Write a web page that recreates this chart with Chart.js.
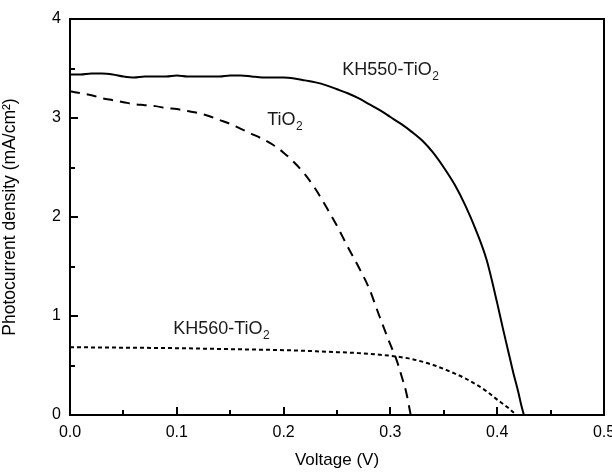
<!DOCTYPE html>
<html><head><meta charset="utf-8">
<script src="https://cdn.jsdelivr.net/npm/chart.js@4.4.0/dist/chart.umd.min.js"></script>
<style>html,body{margin:0;padding:0;background:#fff}</style>
</head><body>
<canvas id="c" width="612" height="472"></canvas>
<script>
// ---- data ----
const voltageKH550 = [0,0.01,0.02,0.03,0.04,0.05,0.06,0.07,0.08,0.09,0.10,0.11,0.12,0.13,0.14,0.15,0.16,0.17,0.18,0.19,0.20,0.21,0.22,0.23,0.24,0.25,0.26,0.27,0.28,0.29,0.30,0.31,0.32,0.33,0.34,0.35,0.36,0.37,0.38,0.39,0.40,0.405,0.41,0.415,0.42,0.4225,0.425];
const currentKH550 = [3.44,3.44,3.45,3.45,3.44,3.42,3.41,3.42,3.42,3.42,3.43,3.42,3.42,3.42,3.42,3.43,3.43,3.42,3.41,3.41,3.41,3.40,3.38,3.36,3.33,3.29,3.25,3.20,3.14,3.08,3.01,2.94,2.86,2.77,2.65,2.50,2.33,2.12,1.87,1.57,1.13,0.89,0.66,0.43,0.22,0.10,0.0];
const voltageTiO2 = [0,0.01,0.02,0.03,0.04,0.05,0.06,0.07,0.08,0.09,0.10,0.11,0.12,0.13,0.14,0.15,0.16,0.17,0.18,0.19,0.20,0.21,0.22,0.23,0.24,0.25,0.26,0.27,0.28,0.29,0.30,0.305,0.31,0.315,0.319];
const currentTiO2 = [3.27,3.25,3.23,3.20,3.18,3.16,3.14,3.13,3.12,3.10,3.09,3.07,3.05,3.02,2.98,2.94,2.89,2.84,2.79,2.73,2.65,2.55,2.43,2.28,2.10,1.91,1.70,1.50,1.28,0.99,0.71,0.58,0.41,0.22,0.0];
const voltageKH560 = [0,0.05,0.10,0.15,0.20,0.25,0.27,0.30,0.32,0.34,0.36,0.37,0.38,0.39,0.40,0.41,0.418];
const currentKH560 = [0.685,0.68,0.675,0.665,0.655,0.635,0.625,0.598,0.565,0.505,0.42,0.37,0.31,0.24,0.155,0.075,0.0];

const xMajorTicks = [0,0.1,0.2,0.3,0.4,0.5];
const xMinorTicks = [0.05,0.15,0.25,0.35,0.45];
const yMajorTicks = [0,1,2,3,4];
const yMinorTicks = [0.5,1.5,2.5,3.5];

const seriesLabels = [
  {name:'KH550-TiO', sub:'2', v:0.255, j:3.485},
  {name:'TiO', sub:'2', v:0.1847, j:2.98},
  {name:'KH560-TiO', sub:'2', v:0.0966, j:0.87}
];

const FONT = '"Liberation Sans", Arial, sans-serif';
const pts = (xs, ys) => xs.map((x,i)=>({x:x,y:ys[i]}));

const framePlugin = {
  id:'frame',
  afterDraw(chart){
    const {ctx, chartArea:a, scales:{x,y}} = chart;
    ctx.save();
    ctx.setLineDash([]);
    const L = Math.round(a.left), R = Math.round(a.right), T = Math.round(a.top), B = Math.round(a.bottom);
    ctx.fillStyle = '#000';
    ctx.fillRect(L - 1, T - 1, R - L + 2, 2);      // top
    ctx.fillRect(L - 1, B - 1, R - L + 2, 2);      // bottom
    ctx.fillRect(L - 1, T - 1, 2, B - T + 2);      // left
    ctx.fillRect(R - 1, T - 1, 2, B - T + 2);      // right
    xMajorTicks.forEach(v=>{const px=Math.round(x.getPixelForValue(v)); ctx.fillRect(px-1, B-8, 2, 8);});
    yMajorTicks.forEach(v=>{const py=Math.round(y.getPixelForValue(v)); ctx.fillRect(L, py-1, 8, 2);});
    xMinorTicks.forEach(v=>{const px=Math.round(x.getPixelForValue(v)); ctx.fillRect(px-1, B-5, 2, 5);});
    yMinorTicks.forEach(v=>{const py=Math.round(y.getPixelForValue(v)); ctx.fillRect(L, py-1, 5, 2);});
    // series labels
    ctx.fillStyle = '#1a1a1a';
    ctx.textBaseline = 'middle';
    ctx.textAlign = 'left';
    seriesLabels.forEach(l=>{
      const px = x.getPixelForValue(l.v), py = y.getPixelForValue(l.j);
      ctx.font = '18px ' + FONT;
      ctx.fillText(l.name, px, py);
      const w = ctx.measureText(l.name).width;
      ctx.font = '12px ' + FONT;
      ctx.fillText(l.sub, px + w + 0.5, py + 7);
    });
    ctx.restore();
  }
};

new Chart(document.getElementById('c'), {
  type:'scatter',
  data:{datasets:[
    {label:'KH550-TiO2', data:pts(voltageKH550,currentKH550), showLine:true, borderColor:'#000', borderWidth:2, pointRadius:0, cubicInterpolationMode:'monotone'},
    {label:'TiO2', data:pts(voltageTiO2,currentTiO2), showLine:true, borderColor:'#000', borderWidth:2, borderDash:[10,7], pointRadius:0, cubicInterpolationMode:'monotone'},
    {label:'KH560-TiO2', data:pts(voltageKH560,currentKH560), showLine:true, borderColor:'#000', borderWidth:2, borderDash:[4,3], pointRadius:0, cubicInterpolationMode:'monotone'}
  ]},
  options:{
    responsive:false, devicePixelRatio:1, animation:false,
    layout:{padding:{left:0, right:8, top:19, bottom:0}},
    plugins:{legend:{display:false}, tooltip:{enabled:false}},
    scales:{
      x:{type:'linear', min:0, max:0.5,
        afterBuildTicks:s=>{s.ticks = xMajorTicks.map(v=>({value:v}));},
        afterFit:s=>{s.height = 57; s.paddingLeft = 0; s.paddingRight = 0;},
        grid:{display:false, drawTicks:false},
        border:{display:false},
        ticks:{padding:8, color:'#000', font:{family:FONT, size:16}, callback:v=>Number(v).toFixed(1), maxRotation:0},
        title:{display:true, text:'Voltage (V)', color:'#000', font:{family:FONT, size:17}, padding:{top:0,bottom:1}}
      },
      y:{type:'linear', min:0, max:4,
        afterBuildTicks:s=>{s.ticks = yMajorTicks.map(v=>({value:v}));},
        afterFit:s=>{s.width = 70; s.paddingTop = 0; s.paddingBottom = 0;},
        grid:{display:false, drawTicks:false},
        border:{display:false},
        ticks:{padding:9, color:'#000', font:{family:FONT, size:16}, callback:v=>String(v)},
        title:{display:true, text:'Photocurrent density (mA/cm²)', color:'#000', font:{family:FONT, size:17.5}, padding:{top:0,bottom:12}}
      }
    }
  },
  plugins:[framePlugin]
});
</script>
</body></html>
